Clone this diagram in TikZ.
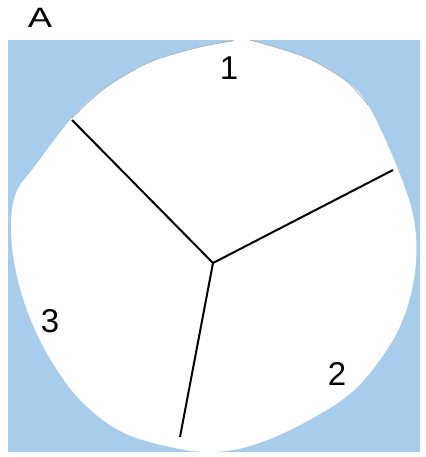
\documentclass[tikz,border=0pt]{standalone}
\usepackage{fontspec}
\setmainfont{Liberation Sans}
\definecolor{bgblue}{RGB}{168,204,235}
\begin{document}
\begin{tikzpicture}[x=1pt,y=-1pt,
  lbl/.style={font=\fontsize{33}{36}\selectfont, inner sep=0pt},
  ttl/.style={font=\fontsize{28}{32}\selectfont, inner sep=0pt},
  wall/.style={line width=2pt, black}]
\useasboundingbox (0,0) rectangle (425,457);
\fill[bgblue] (8,40) rectangle (420,452);
\fill[white] plot[smooth, tension=0.6] coordinates {(250,40) (305,57) (345,80) (368,105) (395,162) (413,215) (416,262) (407,308) (388,348) (352,392) (300,425) (250,446) (210,452) (170,447) (122,432) (82,402) (52,362) (30,318) (16,272) (11,228) (16,193) (35,166) (72,118) (105,88) (150,62) (200,47) (233,41)} -- (241,38) -- cycle;
\draw[gray!70, line width=0.6pt] plot[smooth] coordinates {(233,41) (200,47) (150,62) (105,88) (72,118)};
\draw[gray!70, line width=0.6pt] plot[smooth] coordinates {(250,40) (305,57) (345,80) (368,105)};
\coordinate (c) at (213,263);
\coordinate (e1) at (72,120);
\coordinate (e2) at (393,170);
\coordinate (e3) at (180,437);
\draw[wall] (c) -- (e1);
\draw[wall] (c) -- (e2);
\draw[wall] (c) -- (e3);
\node[ttl] (A) at (40,18) {\scalebox{1.3}[1]{A}};
\node[lbl] (n1) at (229,68) {1};
\node[lbl] (n2) at (337,374) {2};
\node[lbl] (n3) at (50,321) {3};
\end{tikzpicture}
\end{document}
